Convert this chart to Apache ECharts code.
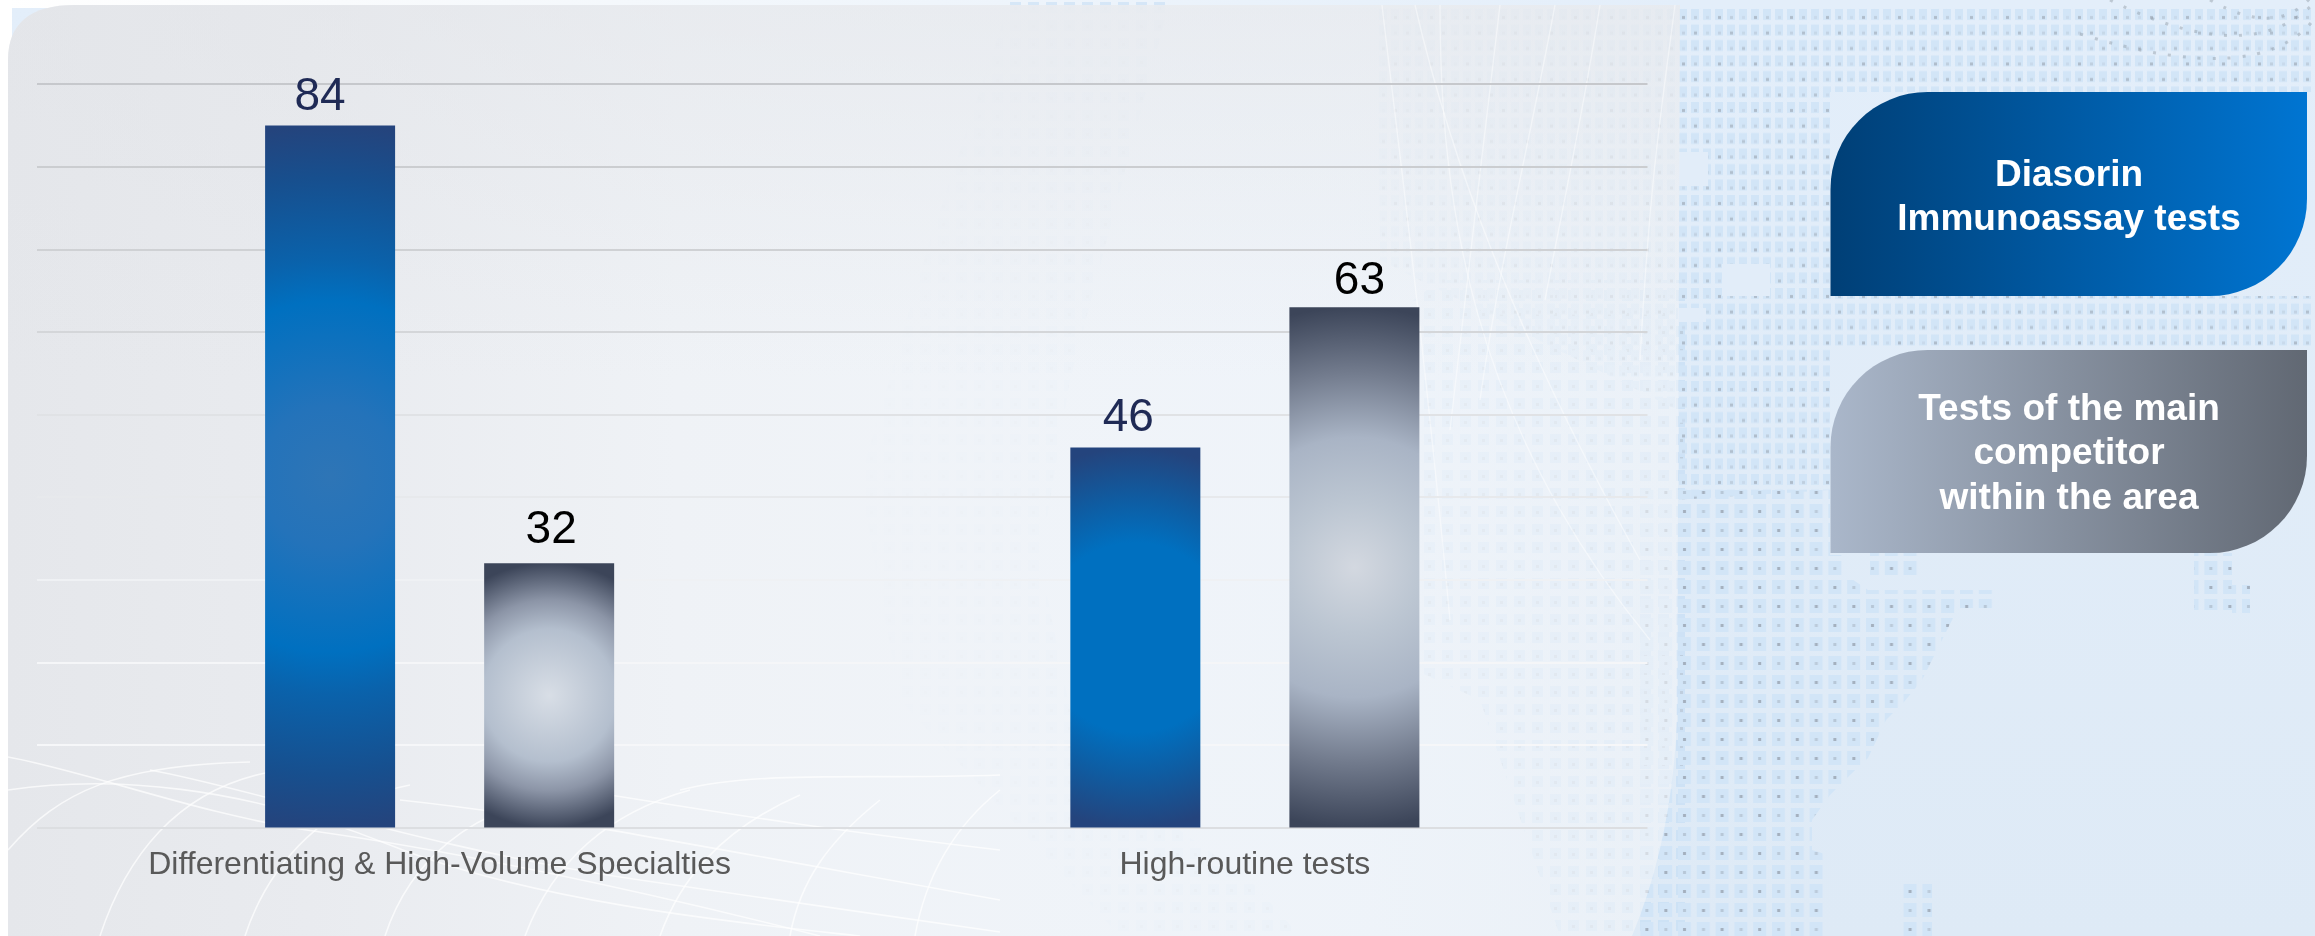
<!DOCTYPE html>
<html>
<head>
<meta charset="utf-8">
<style>
html,body{margin:0;padding:0;width:2315px;height:936px;overflow:hidden;background:#fff}
#bg{position:absolute;left:0;top:0}
#chart{position:absolute;left:0;top:0;width:2315px;height:936px}
</style>
<script src="https://cdn.jsdelivr.net/npm/echarts@6/dist/echarts.min.js"></script>
</head>
<body>
<!-- Decorative backdrop only: dotted map, translucent panel, globe lines -->
<svg id="bg" width="2315" height="936" viewBox="0 0 2315 936">
  <defs>
    <pattern id="dotsTop" width="36" height="46.5" patternUnits="userSpaceOnUse" x="1678" y="8">
      <g fill="#d2e5f7">
        <rect x="1" y="1" width="8" height="11"/><rect x="13" y="1" width="8" height="11"/><rect x="25" y="1" width="8" height="11"/>
        <rect x="1" y="16.5" width="8" height="11"/><rect x="13" y="16.5" width="8" height="11"/><rect x="25" y="16.5" width="8" height="11"/>
        <rect x="1" y="32" width="8" height="11"/><rect x="13" y="32" width="8" height="11"/><rect x="25" y="32" width="8" height="11"/>
      </g>
      <g fill="#a3afbc">
        <rect x="4" y="8" width="3" height="3" opacity=".75"/><rect x="16" y="8" width="3" height="3" opacity=".4"/><rect x="28" y="8" width="3" height="3" opacity=".2"/>
        <rect x="4" y="23.5" width="3" height="3" opacity=".35"/><rect x="16" y="23.5" width="3" height="3" opacity=".7"/><rect x="28" y="23.5" width="3" height="3" opacity=".25"/>
        <rect x="4" y="39" width="3" height="3" opacity=".2"/><rect x="16" y="39" width="3" height="3" opacity=".35"/><rect x="28" y="39" width="3" height="3" opacity=".6"/>
      </g>
    </pattern>
    <pattern id="dotsLow" width="37.6" height="38" patternUnits="userSpaceOnUse" x="1677" y="503">
      <g fill="#d2e5f7">
        <rect x="1" y="1" width="13" height="14"/><rect x="19.8" y="1" width="13" height="14"/>
        <rect x="1" y="20" width="13" height="14"/><rect x="19.8" y="20" width="13" height="14"/>
      </g>
      <g fill="#98a3b0">
        <rect x="6" y="7" width="3" height="3" opacity=".8"/><rect x="25" y="7" width="3" height="3" opacity=".4"/>
        <rect x="6" y="26" width="3" height="3" opacity=".45"/><rect x="25" y="26" width="3" height="3" opacity=".8"/>
      </g>
    </pattern>
    <pattern id="dotsFaint" width="18" height="18" patternUnits="userSpaceOnUse">
      <rect x="2" y="2" width="11" height="11" fill="#c6def5"/><rect x="6" y="7" width="3" height="3" fill="#a3afbc" opacity=".6"/>
    </pattern>
    <linearGradient id="pageBg" x1="0" y1="0" x2="0" y2="1">
      <stop offset="0" stop-color="#e3eefa"/><stop offset="1" stop-color="#deeaf6"/>
    </linearGradient>
    <linearGradient id="topStrip" x1="0" y1="0" x2="1" y2="0">
      <stop offset="0" stop-color="#ffffff"/><stop offset=".3" stop-color="#f6f9fc"/><stop offset="1" stop-color="#e3eefa"/>
    </linearGradient>
    <linearGradient id="panelFill" x1="0" y1="0" x2="1" y2="0">
      <stop offset="0" stop-color="#e5e7eb"/>
      <stop offset=".18" stop-color="#e9ebef"/>
      <stop offset=".4" stop-color="#eff2f6"/>
      <stop offset=".55" stop-color="#f1f4f8" stop-opacity=".93"/>
      <stop offset=".8" stop-color="#f3f6fa" stop-opacity=".78"/>
      <stop offset="1" stop-color="#f1f4f8" stop-opacity=".62"/>
    </linearGradient>
    <linearGradient id="panelTop" x1="0" y1="0" x2="0" y2="1">
      <stop offset="0" stop-color="#e2e4e8" stop-opacity=".5"/>
      <stop offset=".4" stop-color="#e2e4e8" stop-opacity="0"/>
    </linearGradient>
  </defs>
  <rect x="0" y="0" width="2315" height="936" fill="url(#pageBg)"/>
  <rect x="0" y="0" width="1680" height="8" fill="url(#topStrip)"/>
  <rect x="0" y="0" width="12" height="936" fill="#ffffff"/>
  <!-- dotted land -->
  <path fill="url(#dotsFaint)" opacity=".7" d="M1310,380 L1440,280 L1685,280 L1685,936 L1560,936 L1480,700 L1350,640 Z"/>
  <path fill="url(#dotsFaint)" opacity=".6" d="M1010,0 L1170,0 L1070,380 L1040,560 L1080,760 L1250,880 L1300,936 L1120,936 L900,700 L860,480 L930,240 Z"/>
  <path fill="url(#dotsTop)" d="M1378,8 L2315,8 L2315,92 L1830,92 L1830,296 L2315,296 L2315,346 L1830,346 L1830,490 L1677,500 L1677,410 L1380,260 Z"/>
  <path fill="url(#dotsLow)" d="M1640,490 L1830,490 L1830,555 L1846,555 L1846,575 L1868,590 L1958,590 L1958,608 L1942,640 L1922,680 L1904,702 L1886,720 L1868,758 L1850,775 L1830,795 L1812,820 L1812,850 L1828,855 L1826,936 L1640,936 Z"/>
  <path fill="url(#dotsLow)" d="M1870,553 L1922,553 L1922,575 L1870,575 Z"/>
  <path fill="url(#dotsLow)" d="M1943,590 L1993,590 L1993,608 L1943,608 Z"/>
  <path fill="url(#dotsLow)" d="M1900,882 L1932,882 L1932,936 L1900,936 Z"/>
  <path fill="url(#dotsLow)" d="M2194,553 L2232,553 L2232,610 L2194,610 Z"/>
  <path fill="url(#dotsLow)" d="M2232,585 L2250,585 L2250,615 L2232,615 Z"/>
  <g fill="#e2edf9">
    <rect x="1678" y="152" width="30" height="34"/>
    <rect x="1722" y="264" width="48" height="32"/>
    <rect x="1678" y="308" width="28" height="14"/>
  </g>
  <g fill="none" stroke="#8e98a5" stroke-opacity=".45" stroke-width="3" stroke-dasharray="3 12">
    <path d="M2110,0 Q2250,70 2315,2"/>
    <path d="M2080,34 Q2260,90 2315,18"/>
    <path d="M2210,0 Q2280,40 2315,-8"/>
  </g>
  <!-- translucent panel -->
  <path fill="url(#panelFill)" d="M8,60 Q8,5 75,5 L1680,5 L1677,720 Q1672,840 1632,936 L8,936 Z"/>
  <path fill="url(#panelTop)" d="M8,60 Q8,5 75,5 L1680,5 L1677,720 Q1672,840 1632,936 L8,936 Z"/>
  <!-- globe lines -->
  <g fill="none" stroke="#ffffff" stroke-opacity=".7" stroke-width="1.6">
    <path d="M8,757 C90,772 200,815 320,832 S620,885 820,936"/>
    <path d="M8,790 C110,775 240,785 390,845 S760,925 860,936"/>
    <path d="M150,770 C260,790 430,850 640,880 S880,915 1000,932"/>
    <path d="M400,800 C540,815 640,835 1000,900"/>
    <path d="M500,782 C610,790 700,815 1000,850"/>
    <path d="M680,790 C760,770 860,780 1000,775"/>
    <path d="M8,850 C60,790 120,765 250,762"/>
    <path d="M100,936 C125,860 175,790 270,772"/>
    <path d="M245,936 C270,860 330,800 410,785"/>
    <path d="M385,936 C410,860 470,810 560,795"/>
    <path d="M525,936 C550,870 600,815 690,790"/>
    <path d="M660,936 C680,880 720,830 800,795"/>
    <path d="M790,936 C800,880 830,840 880,800"/>
    <path d="M915,936 C925,880 950,830 1000,790"/>
  </g>
  <g fill="none" stroke="#ffffff" stroke-opacity=".45" stroke-width="1.4">
    <path d="M1382,5 C1395,120 1420,300 1450,620"/>
    <path d="M1415,5 C1460,200 1540,380 1640,560"/>
    <path d="M1440,5 C1440,200 1470,420 1650,640"/>
    <path d="M1500,5 C1480,170 1470,260 1450,430"/>
    <path d="M1555,5 C1530,140 1500,260 1480,400"/>
    <path d="M1600,5 C1580,130 1560,220 1545,300"/>
    <path d="M1675,5 C1660,120 1650,180 1640,360"/>
  </g>
</svg>
<div id="chart"></div>
<script>
// Category and series data
var categories = ['Differentiating & High-Volume Specialties', 'High-routine tests'];
var seriesNames = ['Diasorin Immunoassay tests', 'Tests of the main competitor within the area'];
// Bar heights as read against the gridlines. The first blue bar reaches about 85 on the grid
// although the reference prints 84 above it, so heights and printed labels are kept apart.
var diasorinBars = [85, 46];
var competitorBars = [32, 63];
var diasorinLabels = ['84', '46'];
var competitorLabels = ['32', '63'];
var legendDiasorin = 'Diasorin\nImmunoassay tests';
var legendCompetitor = 'Tests of the main\ncompetitor\nwithin the area';
var axisMin = 0, axisMax = 90, axisStep = 10;

function radial(r, stops) {
  return { type: 'radial', x: 0.5, y: 0.5, r: r, global: false,
    colorStops: stops.map(function (s) { return { offset: s[0], color: s[1] }; }) };
}
var fontName = '"Liberation Sans", Arial, sans-serif';
function barLabel(color, dx, dy) {
  return { show: true, position: 'top', distance: 0, offset: [dx, dy], color: color,
           fontFamily: fontName, fontSize: 46 };
}
var chart = echarts.init(document.getElementById('chart'), null, { renderer: 'canvas', width: 2315, height: 936 });
chart.setOption({
  backgroundColor: 'transparent',
  animation: false,
  grid: { left: 37, right: 667.5, top: 84.2, bottom: 108.5, containLabel: false },
  xAxis: {
    type: 'category', data: categories,
    axisLine: { show: false }, axisTick: { show: false },
    axisLabel: { color: '#595959', fontFamily: fontName, fontSize: 32, margin: 22, interval: 0 }
  },
  yAxis: {
    type: 'value', min: axisMin, max: axisMax, interval: axisStep,
    axisLine: { show: false }, axisTick: { show: false }, axisLabel: { show: false },
    splitLine: { show: true, lineStyle: { width: 2, color: [
      '#dcdee1', '#f6f7f9', '#f5f6f8', '#eff1f4', '#e7e9ec', '#e0e2e5', '#d4d6d9', '#cfd1d4', '#cbcdd0', '#c6c8cc'
    ] } }
  },
  series: [
    {
      name: seriesNames[0], type: 'bar', barWidth: 130, barGap: '68.5%',
      data: [
        { value: diasorinBars[0],
          label: Object.assign(barLabel('#1f2a55', -10, -5), { formatter: diasorinLabels[0] }),
          itemStyle: { color: radial(2.7, [[0, '#2e75b6'], [0.2, '#2473ba'], [0.5, '#0070c0'], [0.62, '#0a62ab'], [0.85, '#174f8e'], [1, '#24447d']]) } },
        { value: diasorinBars[1],
          label: Object.assign(barLabel('#1f2a55', -7, -6), { formatter: diasorinLabels[1] }),
          itemStyle: { color: radial(1.46, [[0, '#0070c0'], [0.5, '#0070c0'], [0.72, '#0e5da3'], [1, '#24447d']]) } }
      ]
    },
    {
      name: seriesNames[1], type: 'bar', barWidth: 130,
      data: [
        { value: competitorBars[0],
          label: Object.assign(barLabel('#000000', 2, -10), { formatter: competitorLabels[0] }),
          itemStyle: { color: radial(1.02, [[0, '#d8dee6'], [0.5, '#b4bfce'], [0.72, '#8c95a7'], [1, '#3c4559']]) } },
        { value: competitorBars[1],
          label: Object.assign(barLabel('#000000', 5, -3), { formatter: competitorLabels[1] }),
          itemStyle: { color: radial(2, [[0, '#d3d8e0'], [0.25, '#bcc6d2'], [0.5, '#a9b4c5'], [0.75, '#727b8d'], [1, '#3c4559']]) } }
      ]
    }
  ],
  graphic: [
    { type: 'rect', silent: true, shape: { x: 1830.5, y: 92, width: 476.5, height: 204, r: [97, 0, 97, 0] },
      style: { fill: { type: 'linear', x: 0, y: 0, x2: 1, y2: 0,
        colorStops: [{ offset: 0, color: '#003f76' }, { offset: 1, color: '#0075d2' }] } } },
    { type: 'text', silent: true, x: 2069, y: 198,
      style: { text: legendDiasorin, fill: '#ffffff', font: 'bold 37px ' + fontName, lineHeight: 44.5,
               textAlign: 'center', textVerticalAlign: 'middle' } },
    { type: 'rect', silent: true, shape: { x: 1830.5, y: 350, width: 476.5, height: 203, r: [97, 0, 97, 0] },
      style: { fill: { type: 'linear', x: 0, y: 0, x2: 1, y2: 0,
        colorStops: [{ offset: 0, color: '#aab7ca' }, { offset: 1, color: '#616873' }] } } },
    { type: 'text', silent: true, x: 2069, y: 454,
      style: { text: legendCompetitor, fill: '#ffffff', font: 'bold 37px ' + fontName, lineHeight: 44.5,
               textAlign: 'center', textVerticalAlign: 'middle' } }
  ]
});
</script>
</body>
</html>
